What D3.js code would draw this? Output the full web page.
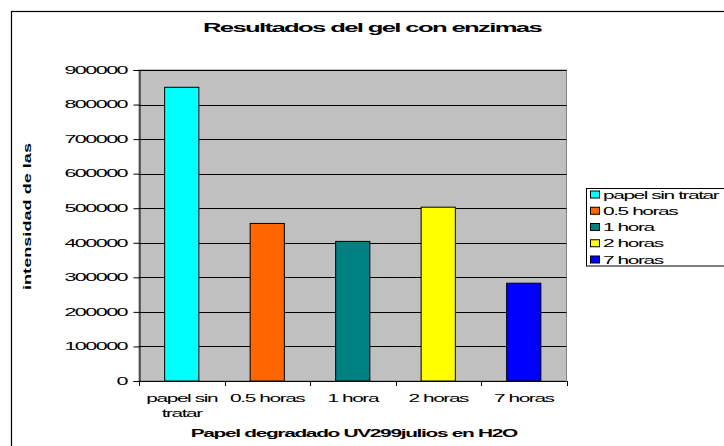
<!DOCTYPE html>
<html>
<head>
<meta charset="utf-8">
<script src="https://cdn.jsdelivr.net/npm/d3@7/dist/d3.min.js"></script>
<style>
  html, body { margin: 0; padding: 0; background: #fff; overflow: hidden; }
  svg { display: block; font-family: "Liberation Sans", Arial, sans-serif; }
</style>
</head>
<body>
<svg id="chart" width="724" height="446"></svg>
<script>
// Data
const categories = ["papel sin tratar", "0.5 horas", "1 hora", "2 horas", "7 horas"];
const categoryLabels = [["papel sin", "tratar"], ["0.5 horas"], ["1 hora"], ["2 horas"], ["7 horas"]];
const values = [850000, 456000, 404000, 503000, 283000];
const yTicks = [0, 100000, 200000, 300000, 400000, 500000, 600000, 700000, 800000, 900000];
const titleText = "Resultados del gel con enzimas";
const xTitleText = "Papel degradado UV299julios en H2O";
const yTitleText = "intensidad de las";

// Bar colours, one per category
const palette = ["#00FFFF", "#FF6600", "#008080", "#FFFF00", "#0000FF"];

const svg = d3.select("#chart");
const plot = { left: 139, right: 566.5, top: 70, bottom: 381 };

// Wide, tightly set lettering anchored at (x, y)
function wideText(parent, x, y, str, opts) {
  const o = Object.assign({ size: 11, weight: "normal", anchor: "start", sx: 1.9, ls: -0.75 }, opts || {});
  return parent.append("text")
    .attr("transform", `translate(${x},${y}) scale(${o.sx},1)`)
    .attr("text-anchor", o.anchor)
    .attr("font-size", o.size)
    .attr("font-weight", o.weight)
    .attr("letter-spacing", o.ls)
    .attr("fill", "#000")
    .text(str);
}

// Outer chart frame
svg.append("rect")
  .attr("x", 11.5).attr("y", 11.5)
  .attr("width", 900).attr("height", 900)
  .attr("fill", "#fff")
  .attr("stroke", "#000").attr("stroke-width", 1.2);

const x = d3.scaleBand().domain(categories).range([plot.left, plot.right]).paddingInner(0).paddingOuter(0);
const y = d3.scaleLinear().domain([0, 900000]).range([plot.bottom, plot.top]);

// Plot area
svg.append("rect")
  .attr("x", plot.left).attr("y", plot.top)
  .attr("width", plot.right - plot.left).attr("height", plot.bottom - plot.top)
  .attr("fill", "#C0C0C0")
  .attr("stroke", "#808080").attr("stroke-width", 1);

// Gridlines
svg.append("g")
  .selectAll("line")
  .data(yTicks.filter(t => t > 0))
  .join("line")
  .attr("x1", plot.left).attr("x2", plot.right)
  .attr("y1", d => Math.round(y(d)) + 0.5).attr("y2", d => Math.round(y(d)) + 0.5)
  .attr("stroke", "#000").attr("stroke-width", 1);

// Bars
const barW = x.bandwidth() * 0.4;
svg.append("g")
  .selectAll("rect")
  .data(values)
  .join("rect")
  .attr("x", (d, i) => x(categories[i]) + (x.bandwidth() - barW) / 2)
  .attr("y", d => y(d))
  .attr("width", barW)
  .attr("height", d => y(0) - y(d))
  .attr("fill", (d, i) => palette[i])
  .attr("stroke", "#000").attr("stroke-width", 1);

// Y axis
const yAxis = svg.append("g")
  .attr("transform", `translate(${plot.left + 0.5},0)`)
  .call(d3.axisLeft(y).tickValues(yTicks).tickSize(6).tickFormat(() => ""));
yAxis.select(".domain").attr("stroke", "#000");
yAxis.selectAll(".tick line").attr("stroke", "#000");
yTicks.forEach(t => {
  wideText(svg, 127, y(t) + 3.8, d3.format("d")(t), { anchor: "end", size: 10.5, sx: 2.05 });
});

// X axis with ticks on the band boundaries
const boundaries = categories.map(c => x(c)).concat([plot.right]);
svg.append("line")
  .attr("x1", plot.left).attr("x2", plot.right)
  .attr("y1", plot.bottom + 0.5).attr("y2", plot.bottom + 0.5)
  .attr("stroke", "#000");
svg.append("g")
  .selectAll("line")
  .data(boundaries)
  .join("line")
  .attr("x1", d => Math.round(d) + 0.5).attr("x2", d => Math.round(d) + 0.5)
  .attr("y1", plot.bottom).attr("y2", plot.bottom + 5)
  .attr("stroke", "#000");

categoryLabels.forEach((lines, i) => {
  const cx = x(categories[i]) + x.bandwidth() / 2;
  lines.forEach((ln, j) => {
    wideText(svg, cx, 402 + j * 15, ln, { anchor: "middle", size: 11 });
  });
});

// Titles
wideText(svg, 372, 32, titleText, { anchor: "middle", size: 12.5, weight: "bold", sx: 2.05, ls: -0.8 });
wideText(svg, (plot.left + plot.right) / 2 + 1, 437, xTitleText, { anchor: "middle", size: 11, weight: "bold", sx: 1.9, ls: -0.7 });

svg.append("text")
  .attr("transform", `translate(31,216.5) rotate(-90)`)
  .attr("text-anchor", "middle")
  .attr("font-size", 11)
  .attr("font-weight", "bold")
  .attr("textLength", 147)
  .attr("lengthAdjust", "spacingAndGlyphs")
  .text(yTitleText);

// Legend
const legend = svg.append("g");
legend.append("rect")
  .attr("x", 586.5).attr("y", 188.5)
  .attr("width", 300).attr("height", 77.5)
  .attr("fill", "#fff")
  .attr("stroke", "#000").attr("stroke-width", 1);
categories.forEach((c, i) => {
  const cy = 194.5 + i * 16.25;
  legend.append("rect")
    .attr("x", 590.5).attr("y", cy - 3.5)
    .attr("width", 9).attr("height", 7)
    .attr("fill", palette[i])
    .attr("stroke", "#000").attr("stroke-width", 1);
  wideText(legend, 603, cy + 4, c, { size: 11 });
});
</script>
</body>
</html>
